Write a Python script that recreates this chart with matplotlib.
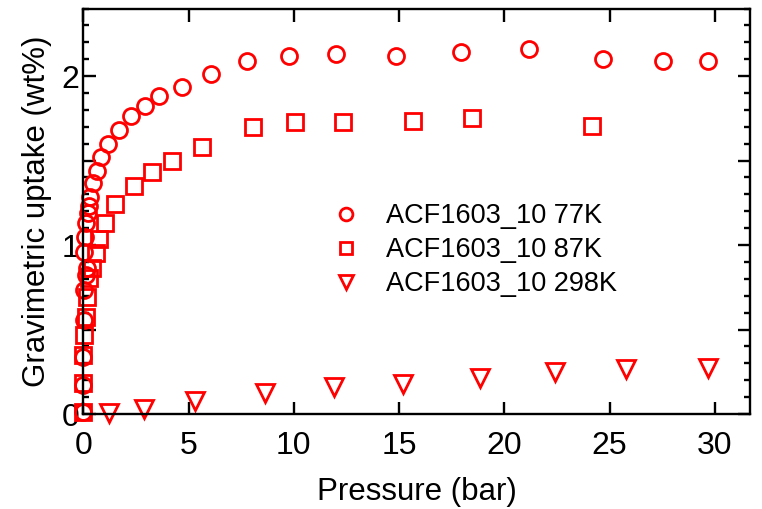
# gravimetric uptake isotherms for ACF1603_10

import matplotlib
matplotlib.use('Agg')
import matplotlib.pyplot as plt
from matplotlib.ticker import MultipleLocator, FixedLocator, FuncFormatter

plt.rcParams['font.family'] = ['Liberation Sans', 'DejaVu Sans']

# 77K (circles)
p_77 = [0.0, 0.0, 0.01, 0.02, 0.04, 0.12, 0.16, 0.05, 0.1, 0.13, 0.21, 0.26, 0.33,
        0.45, 0.64, 0.84, 1.16, 1.68, 2.27, 2.95, 3.58, 4.67, 6.05, 7.76, 9.79,
        11.99, 14.84, 17.93, 21.19, 24.69, 27.55, 29.66]
w_77 = [0.01, 0.17, 0.34, 0.556, 0.734, 0.822, 0.862, 0.96, 1.049, 1.128, 1.188,
        1.231, 1.286, 1.365, 1.44, 1.519, 1.601, 1.68, 1.763, 1.822, 1.882, 1.937,
        2.01, 2.089, 2.12, 2.128, 2.118, 2.14, 2.16, 2.099, 2.089, 2.089]

# 87K (squares)
p_87 = [0.0, 0.0, 0.0, 0.05, 0.13, 0.2, 0.29, 0.41, 0.6, 0.76, 1.05, 1.52, 2.39,
        3.26, 4.2, 5.62, 8.08, 10.06, 12.32, 15.65, 18.45, 24.15]
w_87 = [0.01, 0.182, 0.349, 0.467, 0.576, 0.694, 0.803, 0.862, 0.951, 1.034, 1.132,
        1.243, 1.349, 1.434, 1.499, 1.582, 1.696, 1.726, 1.726, 1.734, 1.753, 1.704]

# 298K (triangles)
p_298 = [1.2, 2.9, 5.3, 8.65, 11.9, 15.2, 18.85, 22.4, 25.8, 29.65]
w_298 = [0.005, 0.03, 0.077, 0.125, 0.16, 0.18, 0.215, 0.25, 0.266, 0.275]

labels = ['ACF1603_10 77K', 'ACF1603_10 87K', 'ACF1603_10 298K']

fig = plt.figure(figsize=(7.62, 5.09), dpi=100)
ax = fig.add_axes([0.1093, 0.1866, 0.875, 0.7967])

style = dict(linestyle='none', markerfacecolor='none', markeredgecolor='red',
             markeredgewidth=2.0, clip_on=False)
ax.plot(p_77, w_77, marker='o', markersize=11.5, label=labels[0], **style)
ax.plot(p_87, w_87, marker='s', markersize=11, label=labels[1], **style)
ax.plot(p_298, w_298, marker='v', markersize=13, label=labels[2], **style)

ax.set_xlim(0, 31.67)
ax.set_ylim(0, 2.4)

ax.xaxis.set_major_locator(MultipleLocator(5))
ax.yaxis.set_major_locator(FixedLocator([0, 0.5, 1, 1.5, 2]))
ax.yaxis.set_minor_locator(MultipleLocator(0.1))
ax.yaxis.set_major_formatter(FuncFormatter(lambda v, pos: '%d' % v if v == int(v) else ''))

for s in ax.spines.values():
    s.set_linewidth(1.7)
ax.tick_params(which='both', direction='in', top=True, right=True, width=1.7, labelsize=23)
ax.tick_params(axis='x', which='major', length=9, pad=12)
ax.tick_params(axis='y', which='major', length=9, pad=3)
ax.tick_params(axis='y', which='minor', length=4.5)

# emphasised half-unit ticks are a bit shorter than the labelled ones
for t in ax.yaxis.get_major_ticks():
    if t.get_loc() not in (0, 1, 2):
        t.tick1line.set_markersize(6.5)
        t.tick2line.set_markersize(6.5)

ax.set_xlabel('Pressure (bar)', fontsize=22.5, labelpad=12)
ax.set_ylabel('Gravimetric uptake (wt%)', fontsize=22.5, labelpad=7)

ax.legend(loc='center left', bbox_to_anchor=(0.3532, 0.404), frameon=False,
          fontsize=19.5, markerscale=0.8, handlelength=1.0, handletextpad=1.0,
          labelspacing=0.3, borderpad=0)

fig.savefig('out.png', dpi=100)
